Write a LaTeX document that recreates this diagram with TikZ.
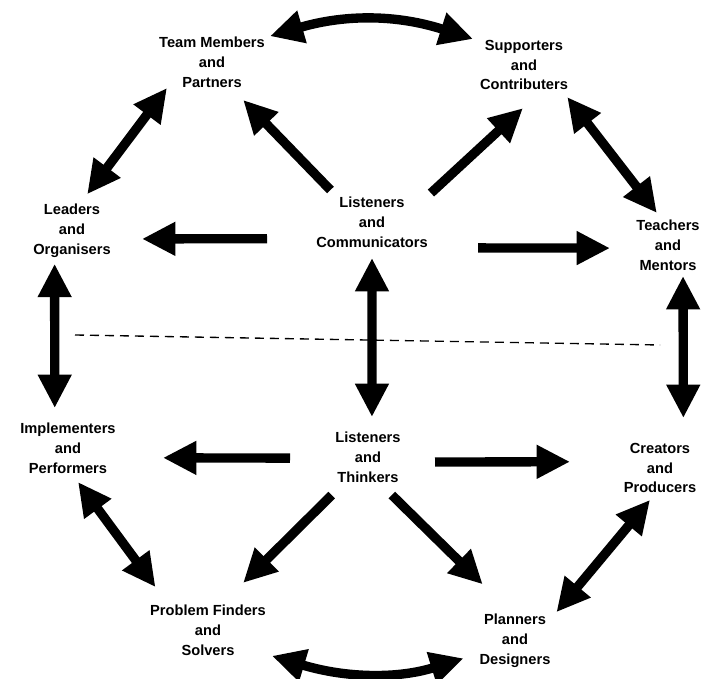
\documentclass[tikz,border=0pt]{standalone}
\usepackage{fontspec}
\setmainfont{Liberation Sans}
\usetikzlibrary{arrows.meta}

\begin{document}
\begin{tikzpicture}[x=0.3mm, y=-0.3mm,
    role/.style={font=\fontsize{12.5}{17}\selectfont\bfseries, align=center, inner sep=0pt, outer sep=0pt, minimum height=15.6mm},
    arr/.style={line width=2.8mm, -{Triangle[length=10mm,width=9.5mm]}},
    dbl/.style={line width=2.8mm, {Triangle[length=10mm,width=9.5mm]}-{Triangle[length=10mm,width=9.5mm]}}]
  \fill[white] (0,0) rectangle (704,679);
  \useasboundingbox (0,0) rectangle (704,679);

  \node[role, minimum width=34.8mm] (team)  at (212,62)  {Team Members\\and\\Partners};
  \node[role, minimum width=31.2mm] (sup)   at (524,65)  {Supporters\\and\\Contributers};
  \node[role, minimum width=27mm]   (lead)  at (72,231)  {Leaders\\and\\Organisers};
  \node[role, minimum width=34.8mm] (comm)  at (372,222) {Listeners\\and\\Communicators};
  \node[role, minimum width=21.6mm] (teach) at (668,245) {Teachers\\and\\Mentors};
  \node[role, minimum width=33mm]   (impl)  at (68,448)  {Implementers\\and\\Performers};
  \node[role, minimum width=21.6mm, minimum height=16.8mm] (think) at (368,457) {Listeners\\and\\Thinkers};
  \node[role, minimum width=27mm]   (creat) at (660,468) {Creators\\and\\Producers};
  \node[role, minimum width=38.4mm] (prob)  at (208,630) {Problem Finders\\and\\Solvers};
  \node[role, minimum width=24mm]   (plan)  at (515,641) {Planners\\and\\Designers};

  \draw[line width=0.4mm, dash pattern=on 2.7mm off 1.8mm] (75,335) -- (660,345);

  \foreach \from/\to/\s/\e in {comm.144/team.-53/2.5/5.0, comm.25/sup.-56/1.3/7.6,
      comm.196/lead.-10/14.1/7.5, comm.-24/teach.185/14.4/6.6,
      think.182/impl.-10/12.6/12, think.-8/creat.172/9.3/13.5,
      think.227/prob.62/4.3/9.0, think.-64/plan.94/4.3/12.8} {
    \draw[arr, shorten <=\s mm, shorten >=\e mm] (\from) -- (\to);
  }
  \foreach \from/\to/\s/\e in {comm.270/think.82/3/3.6, team.210/lead.74/0/3.75,
      sup.-34/teach.104/2.3/2.3, lead.-123/impl.117/1.8/4.2,
      teach.-60/creat.48/1.5/7.2, impl.-81/prob.147/3/6.3,
      creat.-101/plan.34/2.3/0.8} {
    \draw[dbl, shorten <=\s mm, shorten >=\e mm] (\from) -- (\to);
  }
  \draw[dbl] (team.24) to[bend left=17] (sup.153);
  \draw[dbl, shorten >=3.6mm] (prob.-22) to[bend right=17] (plan.199);
\end{tikzpicture}
\end{document}
